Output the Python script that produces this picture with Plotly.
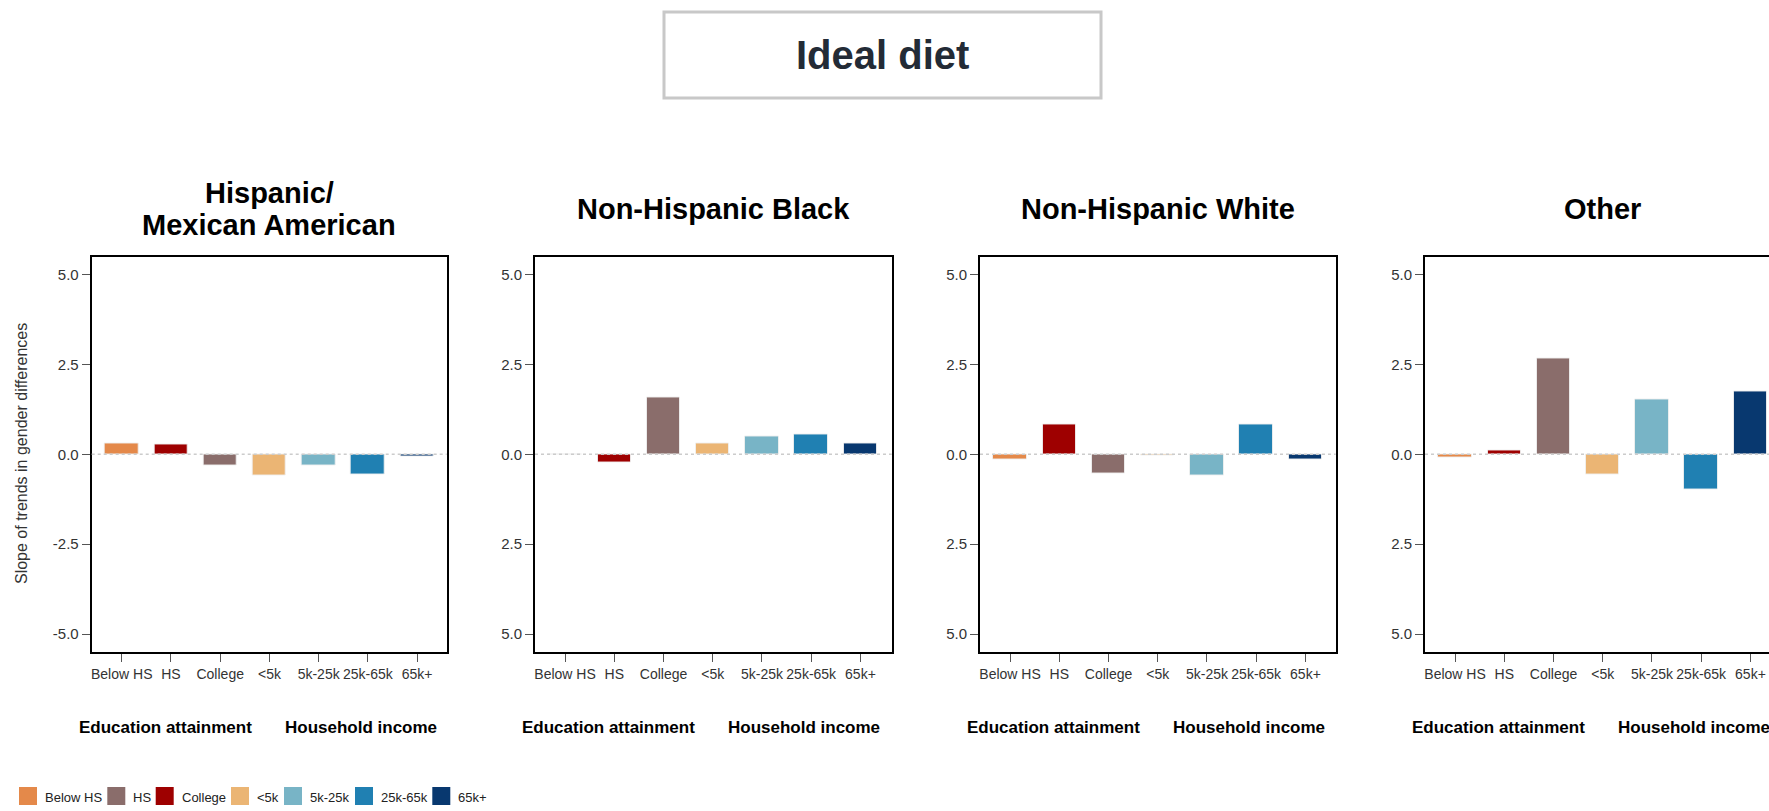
import plotly.graph_objects as go

W, H = 1769, 811

# ---------------- data ----------------
CATEGORIES = ["Below HS", "HS", "College", "<5k", "5k-25k", "25k-65k", "65k+"]
BAR_COLORS = ["#E4894A", "#9E0000", "#8A6D6B", "#EBB574", "#78B4C6", "#2080B2", "#08386F"]
PANEL_TITLES = ["Hispanic/\nMexican American", "Non-Hispanic Black", "Non-Hispanic White", "Other"]
HISPANIC = [0.31, 0.28, -0.31, -0.58, -0.32, -0.56, -0.065]
BLACK = [0.0, -0.22, 1.575, 0.29, 0.485, 0.54, 0.29]
WHITE = [-0.157, 0.83, -0.526, -0.03, -0.58, 0.83, -0.157]
OTHER = [-0.084, 0.11, 2.66, -0.567, 1.53, -0.967, 1.756]
PANEL_VALUES = [HISPANIC, BLACK, WHITE, OTHER]
Y_TICKVALS = [-5, -2.5, 0, 2.5, 5]
Y_TICKTEXT_FIRST = ["-5.0", "-2.5", "0.0", "2.5", "5.0"]
Y_TICKTEXT_OTHER = ["5.0", "2.5", "0.0", "2.5", "5.0"]
GROUP_LABELS = ["Education attainment", "Household income"]
GROUP_LABEL_POS = [0.88, 4.86]
LEGEND_LABELS = ["Below HS", "HS", "College", "<5k", "5k-25k", "25k-65k", "65k+"]
LEGEND_COLORS = ["#E4894A", "#8A6D6B", "#9E0000", "#EBB574", "#78B4C6", "#2080B2", "#08386F"]
TITLE = "Ideal diet"
Y_TITLE = "Slope of trends in gender differences"

# ---------------- layout constants (pixels) ----------------
FONT = "Liberation Sans, Arial, Helvetica, sans-serif"
PANEL_LEFT = [91.7, 535.0, 980.0, 1425.0]
PANEL_RIGHT = [446.7, 891.7, 1335.7, 1769.0]
PANEL_TOP, PANEL_BOTTOM = 256.5, 652.0
X_MIN, X_MAX = -0.61, 6.6
UNIT_PX = (PANEL_RIGHT[0] - PANEL_LEFT[0]) / (X_MAX - X_MIN)
LEGEND_X = [19, 107.3, 155.7, 231, 284, 355, 432.3]


def px(x):
    return x / W


def py(y):
    return 1 - y / H


fig = go.Figure()
layout = dict(
    width=W, height=H,
    margin=dict(l=0, r=0, t=0, b=0),
    paper_bgcolor="white", plot_bgcolor="white",
    showlegend=False,
    font=dict(family=FONT, color="#333333"),
    bargap=0,
)
annotations = []
shapes = []

for i, (vals, title) in enumerate(zip(PANEL_VALUES, PANEL_TITLES)):
    n = "" if i == 0 else str(i + 1)
    xa, ya = "x" + n, "y" + n
    fig.add_trace(go.Bar(
        x=list(range(len(CATEGORIES))), y=vals,
        marker=dict(color=BAR_COLORS, line=dict(color="rgba(240,240,240,0.9)", width=1)),
        width=0.68, xaxis=xa, yaxis=ya,
        hovertext=CATEGORIES, hoverinfo="text+y",
    ))
    left, right = PANEL_LEFT[i], PANEL_RIGHT[i]
    x_max = X_MIN + (right - left) / UNIT_PX
    last = i == len(PANEL_VALUES) - 1
    layout["xaxis" + n] = dict(
        domain=[px(left), px(right)], anchor=ya,
        range=[X_MIN, x_max],
        tickmode="array", tickvals=list(range(len(CATEGORIES))), ticktext=CATEGORIES,
        ticks="outside", ticklen=8, tickwidth=1, tickcolor="#555555",
        tickfont=dict(size=14, color="#333333", family=FONT),
        showline=True, linecolor="black", linewidth=2, mirror=True,
        showgrid=False, zeroline=False, fixedrange=True,
    )
    layout["yaxis" + n] = dict(
        domain=[py(PANEL_BOTTOM), py(PANEL_TOP)], anchor=xa,
        range=[-5.5, 5.5],
        tickmode="array", tickvals=Y_TICKVALS,
        ticktext=Y_TICKTEXT_FIRST if i == 0 else Y_TICKTEXT_OTHER,
        ticks="outside", ticklen=8, tickwidth=1, tickcolor="#555555",
        tickfont=dict(size=15, color="#333333", family=FONT),
        showline=True, linecolor="black", linewidth=2, mirror=not last,
        showgrid=False, zeroline=False, fixedrange=True,
    )
    # dotted zero reference line
    shapes.append(dict(type="line", xref=xa + " domain", yref=ya,
                       x0=0, x1=1, y0=0, y1=0, layer="above",
                       line=dict(color="#cccccc", width=1.5, dash="dot")))
    # panel title (line by line)
    lines = title.split("\n")
    cx = (left + (PANEL_RIGHT[i] if not last else left + (PANEL_RIGHT[0] - PANEL_LEFT[0]))) / 2
    line_h = 33
    y0 = 209 - (len(lines) - 1) * line_h / 2
    for k, line in enumerate(lines):
        annotations.append(dict(
            text="<b>" + line + "</b>", x=px(cx), y=py(y0 + k * line_h),
            xref="paper", yref="paper", xanchor="center", yanchor="middle",
            showarrow=False, font=dict(size=29, color="black", family=FONT),
        ))
    # group labels under x axis
    for lab, pos in zip(GROUP_LABELS, GROUP_LABEL_POS):
        annotations.append(dict(
            text="<b>" + lab + "</b>", x=pos, y=py(727), xref=xa, yref="paper",
            xanchor="center", yanchor="middle", showarrow=False,
            font=dict(size=17, color="black", family=FONT),
        ))

# y axis title
annotations.append(dict(
    text=Y_TITLE, x=px(21), y=py(454), xref="paper", yref="paper",
    textangle=-90, xanchor="center", yanchor="middle", showarrow=False,
    font=dict(size=16, color="#333333", family=FONT),
))

# main title box
shapes.append(dict(type="rect", xref="paper", yref="paper",
                   x0=px(664), x1=px(1101), y0=py(98), y1=py(12),
                   line=dict(color="#c8c8c8", width=3), fillcolor="white", layer="below"))
annotations.append(dict(
    text="<b>" + TITLE + "</b>", x=px(882), y=py(55), xref="paper", yref="paper",
    xanchor="center", yanchor="middle", showarrow=False,
    font=dict(size=40, color="#232b36", family=FONT),
))

# legend (swatch + label)
for lx, lab, col in zip(LEGEND_X, LEGEND_LABELS, LEGEND_COLORS):
    shapes.append(dict(type="rect", xref="paper", yref="paper",
                       x0=px(lx), x1=px(lx + 18), y0=py(805), y1=py(787),
                       line=dict(color=col, width=0), fillcolor=col))
    annotations.append(dict(
        text=lab, x=px(lx + 24), y=py(797), xref="paper", yref="paper",
        xanchor="left", yanchor="middle", showarrow=False,
        font=dict(size=13, color="#222222", family=FONT),
    ))

layout["annotations"] = annotations
layout["shapes"] = shapes
fig.update_layout(**layout)
fig.write_html("out.html")
